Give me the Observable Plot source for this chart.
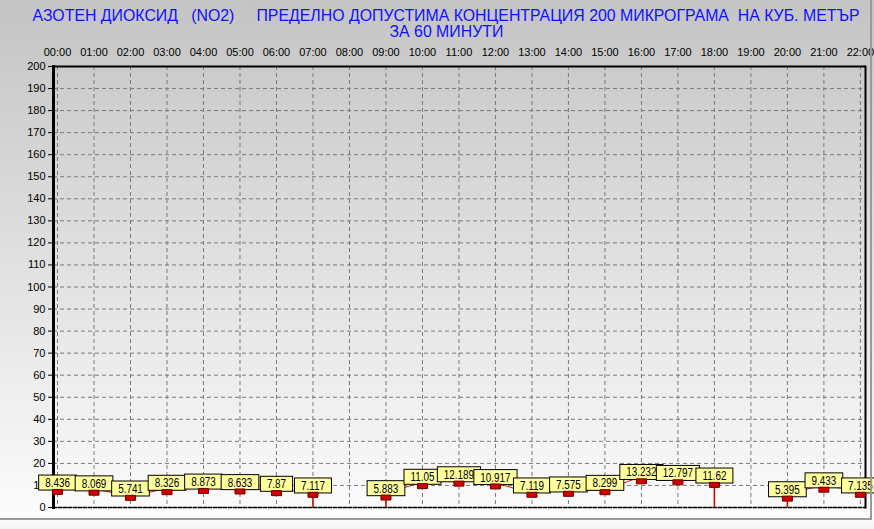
<!DOCTYPE html>
<html>
<head>
<meta charset="utf-8">
<script src="https://cdn.jsdelivr.net/npm/d3@7"></script>
<script src="https://cdn.jsdelivr.net/npm/@observablehq/plot@0.6"></script>
<style>
  html, body { margin: 0; padding: 0; }
  body { width: 874px; height: 529px; overflow: hidden; background: linear-gradient(to bottom, #c4c4c4 0px, #fcfcfc 519px, #f4f4f4 529px); font-family: "Liberation Sans", Arial, sans-serif; }
  #wrap { position: relative; width: 874px; height: 529px; }
  #title { position: absolute; left: 0; top: 0; width: 874px; height: 42px; color: #1010ff; font-size: 16px; }
  #title div { position: absolute; white-space: pre; transform-origin: center center; }
  #chart { position: absolute; left: 0; top: 42px; }
  #border { position: absolute; left: 0; top: 0; width: 870px; height: 518px; border-right: 2px solid #9a9a9a; border-bottom: 2px solid #9a9a9a; pointer-events: none; }
</style>
</head>
<body>
<div id="wrap">
  <div id="title"><div id="t1">АЗОТЕН ДИОКСИД   (NO2)     ПРЕДЕЛНО ДОПУСТИМА КОНЦЕНТРАЦИЯ 200 МИКРОГРАМА  НА КУБ. МЕТЪР</div><div id="t2">ЗА 60 МИНУТИ</div></div>
  <div id="chart"></div>
  <div id="border"></div>
</div>
<script>
const hours = [0,1,2,3,4,5,6,7,8,9,10,11,12,13,14,15,16,17,18,19,20,21,22];
const hourLabels = ["00:00","01:00","02:00","03:00","04:00","05:00","06:00","07:00","08:00","09:00","10:00","11:00","12:00","13:00","14:00","15:00","16:00","17:00","18:00","19:00","20:00","21:00","22:00"];
const values = [8.436, 8.069, 5.741, 8.326, 8.873, 8.633, 7.87, 7.117, null, 5.883, 11.05, 12.189, 10.917, 7.119, 7.575, 8.299, 13.232, 12.797, 11.62, null, 5.395, 9.433, 7.135];
const valueLabels = ["8.436","8.069","5.741","8.326","8.873","8.633","7.87","7.117",null,"5.883","11.05","12.189","10.917","7.119","7.575","8.299","13.232","12.797","11.62",null,"5.395","9.433","7.135"];
const yTicks = d3.range(0, 201, 10);

const data = hours.map((h, i) => ({h, v: values[i], label: valueLabels[i]}));
const pts = data.filter(d => d.v != null);
const drops = data.filter((d, i) => d.v != null && ((i > 0 && values[i-1] == null) || (i < values.length - 1 && values[i+1] == null)));

const markerSymbol = { draw(ctx, size) { ctx.moveTo(-5, 0.5); ctx.lineTo(5, 0.5); ctx.lineTo(5, 5.5); ctx.lineTo(-5, 5.5); ctx.closePath(); } };

const chart = Plot.plot({
  width: 874,
  height: 487,
  marginTop: 24,
  marginBottom: 22,
  marginLeft: 53,
  marginRight: 9,
  style: { background: "transparent", fontFamily: "'Liberation Sans', Arial, sans-serif", fontSize: "11px", color: "#000" },
  x: { domain: [-0.11, 22.14], label: null },
  y: { domain: [0, 200], label: null },
  marks: [
    Plot.gridX(hours, { stroke: "#7a7a7a", strokeOpacity: 1, strokeDasharray: "4,3" }),
    Plot.gridY(yTicks, { stroke: "#7a7a7a", strokeOpacity: 1, strokeDasharray: "4,3" }),
    Plot.axisX(hours, { anchor: "top", label: null, tickSize: 0, tickPadding: 11, tickFormat: (d) => hourLabels[hours.indexOf(d)], fill: "#000", fontSize: 11 }),
    Plot.axisY(yTicks, { anchor: "left", label: null, tickSize: 5, tickPadding: 3, fill: "#000", fontSize: 11, stroke: "#000" }),
    Plot.frame({ anchor: "top", stroke: "#000", strokeWidth: 2, strokeDasharray: "3,1" }),
    Plot.frame({ anchor: "bottom", stroke: "#000", strokeWidth: 1.5, strokeDasharray: "3,2" }),
    Plot.frame({ anchor: "left", stroke: "#000", strokeWidth: 3 }),
    Plot.frame({ anchor: "right", stroke: "#000", strokeWidth: 2 }),
    Plot.ruleX(drops, { x: "h", y1: 0, y2: "v", stroke: "#cc0000", strokeWidth: 1.5 }),
    Plot.line(data, { x: "h", y: "v", stroke: "#d01010", strokeWidth: 1, curve: "monotone-x" }),
    Plot.text(pts, { x: "h", y: "v", text: "label", dy: -6, fill: "#000", fontSize: 13 }),
    Plot.dot(pts, { x: "h", y: "v", symbol: markerSymbol, r: 4, fill: "#d00000", stroke: "#700000", strokeWidth: 1 })
  ]
});
document.getElementById("chart").appendChild(chart);

// narrow value labels with yellow boxes behind them
const sx = 0.76;
d3.select(chart).selectAll("g[aria-label='text'] text").each(function() {
  const t = this.getAttribute("transform") || "";
  this.setAttribute("transform", t + ` scale(${sx},1)`);
  const b = this.getBBox();
  const w = b.width * sx;
  const cxl = (b.x + b.width / 2) * sx;
  const cy = b.y + b.height / 2;
  const r = document.createElementNS("http://www.w3.org/2000/svg", "rect");
  r.setAttribute("x", cxl - w / 2 - 6.5);
  r.setAttribute("y", cy - 7.5);
  r.setAttribute("width", w + 13);
  r.setAttribute("height", 15);
  r.setAttribute("fill", "#ffff9e");
  r.setAttribute("stroke", "#000");
  r.setAttribute("stroke-width", 1);
  if (t) r.setAttribute("transform", t);
  this.parentNode.insertBefore(r, this);
});

// title: squeeze the font to the reference width
const t1 = document.getElementById("t1"), t2 = document.getElementById("t2");
const w1 = t1.getBoundingClientRect().width;
const s = 827 / w1;
const cx = 446;
[[t1, 16], [t2, 32]].forEach(([el, y]) => {
  const w = el.getBoundingClientRect().width, h = el.getBoundingClientRect().height;
  el.style.left = (cx - w / 2) + "px";
  el.style.top = (y - h / 2) + "px";
  el.style.transform = `scaleX(${s})`;
});
</script>
</body>
</html>
